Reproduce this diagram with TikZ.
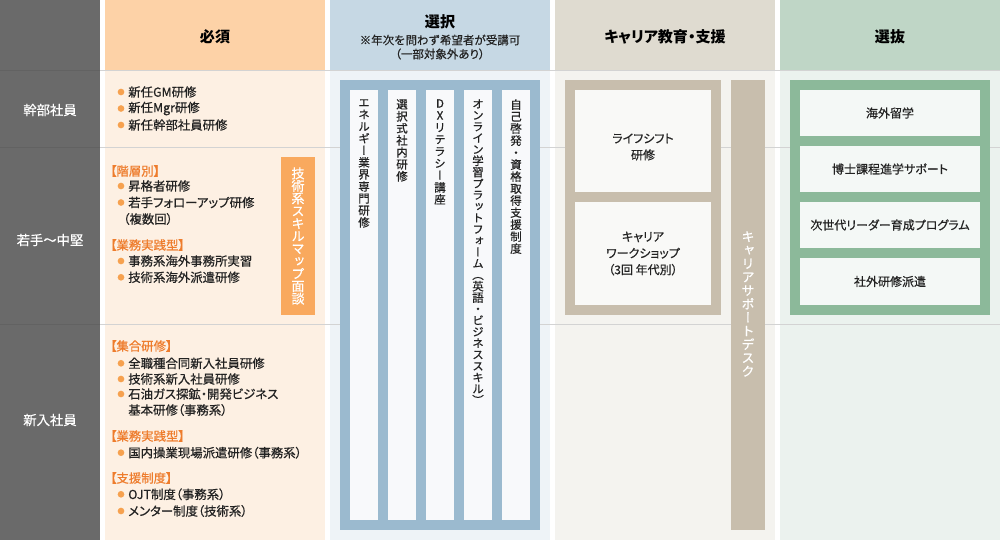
\documentclass[tikz,border=0pt]{standalone}
\usepackage{fontspec}
\newfontfamily\jp[RawFeature=+palt]{Noto Sans CJK JP}
\newfontfamily\jpm[RawFeature=+palt,FakeBold=0.6]{Noto Sans CJK JP}
\newfontfamily\jpf[FakeBold=0.4]{Noto Sans CJK JP}
\newfontfamily\vjp[RawFeature=+vert,FakeBold=0.6]{Noto Sans CJK JP}
\definecolor{cgray}{HTML}{6A6A6A}
\definecolor{hH}{HTML}{FDD2A7}
\definecolor{hB}{HTML}{FDF0E3}
\definecolor{sH}{HTML}{C6D8E4}
\definecolor{sB}{HTML}{EEF3F7}
\definecolor{sF}{HTML}{9BBACF}
\definecolor{sS}{HTML}{F8F9FB}
\definecolor{kH}{HTML}{DFDBD0}
\definecolor{kB}{HTML}{F4F3EF}
\definecolor{kF}{HTML}{C8BEAD}
\definecolor{kS}{HTML}{F9F9F7}
\definecolor{eH}{HTML}{BFD6C6}
\definecolor{eB}{HTML}{EBF2EE}
\definecolor{eF}{HTML}{8CB99A}
\definecolor{eS}{HTML}{F4F8F6}
\definecolor{rl}{HTML}{D3D3D3}
\definecolor{rlg}{HTML}{626262}
\definecolor{ink}{HTML}{222222}
\definecolor{brkor}{HTML}{EE7C2C}
\definecolor{bulor}{HTML}{F6A14F}
\definecolor{skbox}{HTML}{F9A95E}
\makeatletter
\newdimen\vt@pitch
\def\vt@stop{vt@stop}
\def\vt@go#1{\ifx#1\vt@stop\else\hbox to 1em{\hss#1\hss}\expandafter\vt@go\fi}
\newcommand\vtext[2]{\vt@pitch=#1\relax\vbox{\baselineskip=\vt@pitch\lineskiplimit=-\maxdimen\lineskip=0pt\relax\vt@go#2\vt@stop}}
\makeatother
\tikzset{
  body/.style={anchor=west, inner sep=0pt, font=\jpm\fontsize{9.3}{11}\selectfont, text=ink},
  brk/.style={body, text=brkor},
  head/.style={inner sep=0pt, font=\jp\bfseries\fontsize{11.3}{13}\selectfont, text=black},
  sub/.style={inner sep=0pt, font=\jpf\fontsize{8.6}{10}\selectfont, text=ink},
  rowlab/.style={inner sep=0pt, font=\jpm\fontsize{10}{12}\selectfont, text=white},
  vt/.style={inner sep=0pt, anchor=north, font=\vjp\fontsize{8.6}{9}\selectfont, text=ink},
  vtw/.style={inner sep=0pt, font=\vjp\fontsize{9.8}{10}\selectfont, text=white},
  boxtext/.style={inner sep=0pt, align=center, font=\jpm\fontsize{9}{12.4}\selectfont, text=ink},
}
\begin{document}
\begin{tikzpicture}[x=0.75pt,y=-0.75pt]
\useasboundingbox (0,0) rectangle (1000,540);
% column backgrounds
\fill[cgray] (0,0) rectangle (100,540);
\fill[hH] (105,0) rectangle (325,70);
\fill[hB] (105,70) rectangle (325,540);
\fill[sH] (330,0) rectangle (550,70);
\fill[sB] (330,70) rectangle (550,540);
\fill[kH] (555,0) rectangle (775,70);
\fill[kB] (555,70) rectangle (775,540);
\fill[eH] (780,0) rectangle (1000,70);
\fill[eB] (780,70) rectangle (1000,540);
% row lines
\foreach \yy in {70.5,147,324}{
  \draw[line width=0.75pt, rl] (100,\yy) -- (1000,\yy);
  \draw[line width=0.75pt, rlg] (0,\yy) -- (100,\yy);
}
% headers
\node[head] (hHisshu) at (215,37) {必須};
\node[head] (hSentaku) at (440,22) {選択};
\node[sub] (hSub1) at (440,40) {※年次を問わず希望者が受講可};
\node[sub, font=\jpm\fontsize{8.6}{10}\selectfont] (hSub2) at (440,54) {（一部対象外あり）};
\node[head] (hCareer) at (665,37) {キャリア教育・支援};
\node[head] (hSenbatsu) at (890,37) {選抜};
% row labels
\node[rowlab] (r1) at (50,110) {幹部社員};
\node[rowlab] (r2) at (50,240) {若手～中堅};
\node[rowlab] (r3) at (50,420) {新入社員};
% hisshu column
\foreach \yy in {92,108.5,125,186,202.5,261,277.3,363.3,379,394,452.7,494.3,511}{
  \fill[bulor] (121,\yy) circle (2.5pt);
}
\node[body] (a1) at (128,92) {新任GM研修};
\node[body] (a2) at (128,108.5) {新任Mgr研修};
\node[body] (a3) at (128,125) {新任幹部社員研修};
\node[brk] (b0) at (110,171) {【階層別】};
\node[body] (b1) at (128,186) {昇格者研修};
\node[body] (b2) at (128,202.5) {若手フォローアップ研修};
\node[body] (b3) at (123,219) {（複数回）};
\node[brk] (b4) at (110,245) {【業務実践型】};
\node[body] (b5) at (128,261) {事務系海外事務所実習};
\node[body] (b6) at (128,277.3) {技術系海外派遣研修};
\fill[skbox] (281,157) rectangle (315,315);
\node[vtw] (skill) at (298,236) {\vtext{9.4pt}{技術系スキルマップ面談}};
\node[brk] (c0) at (110,346) {【集合研修】};
\node[body] (c1) at (128,363.3) {全職種合同新入社員研修};
\node[body] (c2) at (128,379) {技術系新入社員研修};
\node[body] (c3) at (128,394) {石油ガス探鉱・開発ビジネス};
\node[body] (c4) at (128,410) {基本研修（事務系）};
\node[brk] (c5) at (110,436) {【業務実践型】};
\node[body] (c6) at (128,452.7) {国内操業現場派遣研修（事務系）};
\node[brk] (c7) at (110,478) {【支援制度】};
\node[body] (c8) at (128,494.3) {OJT制度（事務系）};
\node[body] (c9) at (128,511) {メンター制度（技術系）};
% sentaku column
\fill[sF] (340,80) rectangle (540,530);
\foreach \xx in {350,388,426,464,502}{
  \fill[sS] (\xx,90) rectangle ({\xx+28},520);
}
\node[vt] (v1) at (364,99) {\vtext{9pt}{エネルギー業界専門研修}};
\node[vt] (v2) at (402,99) {\vtext{9pt}{選択式社内研修}};
\node[vt] (v3) at (440,99) {\vtext{9pt}{DXリテラシー講座}};
\node[vt] (v4) at (478,99) {\vtext{8.55pt}{オンライン学習プラットフォーム（英語・ビジネススキル）}};
\node[vt] (v5) at (516,99) {\vtext{9pt}{自己啓発・資格取得支援制度}};
% career column
\fill[kF] (565,80) rectangle (721,315);
\fill[kS] (575,90) rectangle (711,192);
\fill[kS] (575,202) rectangle (711,305);
\node[boxtext] (k1) at (643,147) {ライフシフト\\研修};
\node[boxtext] (k2) at (643,253.5) {キャリア\\ワークショップ\\（3回 年代別）};
\fill[kF] (731,80) rectangle (765,530);
\node[vtw] (desk) at (748,304) {\vtext{10.1pt}{キャリアサポートデスク}};
% senbatsu column
\fill[eF] (790,80) rectangle (990,315);
\fill[eS] (800,90) rectangle (980,136);
\fill[eS] (800,146) rectangle (980,192);
\fill[eS] (800,202) rectangle (980,248);
\fill[eS] (800,258) rectangle (980,305);
\node[boxtext] (e1) at (890,113) {海外留学};
\node[boxtext] (e2) at (890,169) {博士課程進学サポート};
\node[boxtext] (e3) at (890,225) {次世代リーダー育成プログラム};
\node[boxtext] (e4) at (890,281.5) {社外研修派遣};
\end{tikzpicture}
\end{document}
